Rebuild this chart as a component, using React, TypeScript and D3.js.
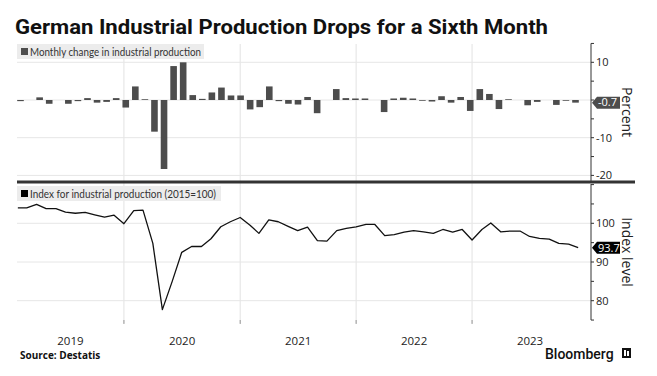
import React from "react";
import * as d3 from "d3";

const W = 657;
const H = 376;

const TITLE = "German Industrial Production Drops for a Sixth Month";
const firstMonth = new Date(2019, 0, 1);
const monthCount = 59; // Jan 2019 .. Nov 2023
const yearLabels = ["2019", "2020", "2021", "2022", "2023"];

// Monthly change in industrial production, %
const monthlyChange = [
  -0.3, 0.0, 0.7, -1.0, 0.0, -1.0, -0.3, 0.5, -0.7, -0.5, 0.5, -2.0,
  3.6, 0.2, -8.4, -18.3, 9.0, 10.0, 1.3, 0.3, 2.0, 3.3, 1.2, 1.2,
  -2.5, -1.9, 3.6, -0.3, -1.0, -1.2, 0.8, -3.5, 0.0, 2.9, 0.5, 0.4,
  0.4, 0.0, -3.2, 0.4, 0.6, 0.4, -0.2, -0.4, 1.0, -0.7, 0.8, -2.9,
  2.9, 1.6, -2.4, 0.2, 0.0, -1.4, -0.5, 0.0, -1.3, -0.2, -0.7,
];

// Index for industrial production (2015=100)
const indexLevel = [
  104.0, 104.0, 104.9, 103.8, 103.8, 102.9, 102.6, 102.8, 102.2, 101.6, 102.1, 99.9,
  103.3, 103.4, 94.8, 77.7, 85.0, 92.5, 94.0, 94.0, 96.0, 99.1, 100.4, 101.5,
  99.5, 97.4, 100.9, 100.4, 99.2, 98.1, 99.0, 95.5, 95.4, 98.1, 98.7, 99.1,
  99.7, 99.7, 96.8, 97.1, 97.7, 98.1, 97.8, 97.4, 98.4, 97.7, 98.4, 95.7,
  98.4, 100.1, 97.8, 98.0, 98.0, 96.6, 96.1, 95.9, 94.8, 94.6, 93.7,
];

const changeTicks = [15, 10, 5, 0, -5, -10, -15, -20];
const changeLabels = [10, -10, -20];
const changeGrid = [10, 0, -10, -20];
const indexTicks = [110, 105, 100, 95, 90, 85, 80, 75];
const indexLabels = [100, 90, 80];
const indexGrid = [100, 90, 80];

const months = d3.range(monthCount).map((i) => d3.timeMonth.offset(firstMonth, i));
const monthEnds = months.map((m) => d3.timeMonth.offset(m, 1));

const PL = 17;
const AX = 591;

export default function App() {
  const x = d3
    .scaleTime()
    .domain([new Date(2019, 0, 1), new Date(2024, 0, 1)])
    .range([8, 588]);
  const xBar = d3
    .scalePoint<number>()
    .domain(d3.range(monthCount))
    .range([20.5, 575.5]);
  const barW = 6.6;

  const yTop = d3.scaleLinear().domain([-20, 10]).range([175.4, 62.3]);
  const yBot = d3.scaleLinear().domain([80, 100]).range([300.7, 223.3]);

  const line = d3
    .line<number>()
    .x((_, i) => x(monthEnds[i]))
    .y((d) => yBot(d));

  const yearStarts = d3.range(2019, 2025).map((y) => new Date(y, 0, 1));
  const gridYears = yearStarts.slice(1, 5);

  const lastChange = monthlyChange[monthlyChange.length - 1];
  const lastIndex = indexLevel[indexLevel.length - 1];

  const tag = (yv: number) =>
    `M${AX + 1},${yv} L${AX + 6},${yv - 6} L${AX + 29},${yv - 6} L${AX + 29},${yv + 6} L${AX + 6},${yv + 6} Z`;

  const tickFont = "'Open Sans', sans-serif";
  const legendFont = "Lato, sans-serif";

  return (
    <svg
      width={W}
      height={H}
      style={{ position: "absolute", left: 0, top: 0, background: "#fff" }}
      fontFamily={tickFont}
    >
      <rect x={0} y={0} width={W} height={H} fill="#fff" />
      <text
        x={15}
        y={34}
        fontFamily="Roboto, sans-serif"
        fontWeight={700}
        fontSize={20}
        fill="#111"
        textLength={533}
        lengthAdjust="spacingAndGlyphs"
      >
        {TITLE}
      </text>

      {/* vertical gridlines */}
      {gridYears.map((d, i) => (
        <line key={i} x1={x(d)} x2={x(d)} y1={44} y2={323} stroke="#e2e2e2" strokeWidth={1} />
      ))}
      {/* horizontal gridlines */}
      {changeGrid.map((v) => (
        <line key={"cg" + v} x1={PL} x2={AX} y1={yTop(v)} y2={yTop(v)} stroke="#e6e6e6" />
      ))}
      {indexGrid.map((v) => (
        <line key={"ig" + v} x1={PL} x2={AX} y1={yBot(v)} y2={yBot(v)} stroke="#e6e6e6" />
      ))}

      {/* legends */}
      <rect x={17} y={44} width={187} height={15} fill="#ececec" />
      <rect x={21} y={48} width={7} height={7} fill="#4d4d4d" />
      <text
        x={30}
        y={55.5}
        fontSize={10.5}
        fill="#333"
        fontFamily={legendFont}
        textLength={171}
        lengthAdjust="spacingAndGlyphs"
      >
        Monthly change in industrial production
      </text>

      {/* bars */}
      <g>
        {monthlyChange.map((v, i) => {
          const cx = xBar(i) as number;
          const y0 = yTop(0);
          const y1 = yTop(v);
          const left = Math.max(PL, cx - barW / 2);
          return (
            <rect
              key={i}
              x={left}
              width={cx + barW / 2 - left}
              y={Math.min(y0, y1)}
              height={Math.abs(y1 - y0)}
              fill="#4d4d4d"
            />
          );
        })}
      </g>

      {/* separator */}
      <line x1={PL} x2={635} y1={182} y2={182} stroke="#333" strokeWidth={3} />

      <rect x={17} y={186} width={204} height={15} fill="#ececec" />
      <rect x={21} y={190} width={7} height={7} fill="#000" />
      <text
        x={30}
        y={197.5}
        fontSize={10.5}
        fill="#333"
        fontFamily={legendFont}
        textLength={186}
        lengthAdjust="spacingAndGlyphs"
      >
        Index for industrial production (2015=100)
      </text>

      {/* line */}
      <path d={line(indexLevel) || ""} fill="none" stroke="#111" strokeWidth={1.3} strokeLinejoin="round" />

      {/* right axes */}
      <line x1={AX} x2={AX} y1={yTop(15)} y2={181} stroke="#333" />
      {changeTicks.map((v) => (
        <line key={"ct" + v} x1={AX} x2={AX + 3} y1={yTop(v)} y2={yTop(v)} stroke="#333" />
      ))}
      {changeLabels.map((v) => (
        <text key={"cl" + v} x={AX + 5} y={yTop(v)} dy="0.35em" fontSize={11} fill="#222">
          {v}
        </text>
      ))}
      <line x1={AX} x2={AX} y1={184} y2={yBot(75)} stroke="#333" />
      {indexTicks.map((v) => (
        <line key={"it" + v} x1={AX} x2={AX + 3} y1={yBot(v)} y2={yBot(v)} stroke="#333" />
      ))}
      {indexLabels.map((v) => (
        <text key={"il" + v} x={AX + 5} y={yBot(v)} dy="0.35em" fontSize={11} fill="#222">
          {v}
        </text>
      ))}

      {/* value tags */}
      <path d={tag(yTop(lastChange))} fill="#4d4d4d" />
      <text x={AX + 7} y={yTop(lastChange)} dy="0.35em" fontSize={11} fill="#fff">
        {lastChange.toFixed(1)}
      </text>
      <path d={tag(yBot(lastIndex))} fill="#000" />
      <text x={AX + 7} y={yBot(lastIndex)} dy="0.35em" fontSize={11} fill="#fff">
        {lastIndex.toFixed(1)}
      </text>

      {/* axis titles */}
      <text transform={`translate(622,112) rotate(90)`} textAnchor="middle" fontSize={14} fill="#222">
        Percent
      </text>
      <text transform={`translate(622,252) rotate(90)`} textAnchor="middle" fontSize={14} fill="#222">
        Index level
      </text>

      {/* x axis */}
      {gridYears.map((d, i) => (
        <line key={"xt" + i} x1={x(d)} x2={x(d)} y1={320} y2={324} stroke="#999" />
      ))}
      {yearLabels.map((lab, i) => {
        const a = Math.max(PL, x(yearStarts[i]));
        const b = Math.min(AX, x(yearStarts[i + 1]));
        return (
          <text key={lab} x={(a + b) / 2} y={345} textAnchor="middle" fontSize={11.5} fill="#222">
            {lab}
          </text>
        );
      })}

      {/* footer */}
      <text x={20} y={359} fontSize={10} fontWeight={700} fill="#111">
        Source: Destatis
      </text>
      <text x={545} y={359} fontSize={14} fontWeight={500} fill="#111" fontFamily="Roboto, sans-serif">
        Bloomberg
      </text>
      <rect x={622} y={348} width={9} height={10} fill="#111" />
      <rect x={624} y={350} width={2} height={6} fill="#fff" />
      <rect x={627} y={351} width={2} height={5} fill="#fff" />
    </svg>
  );
}
